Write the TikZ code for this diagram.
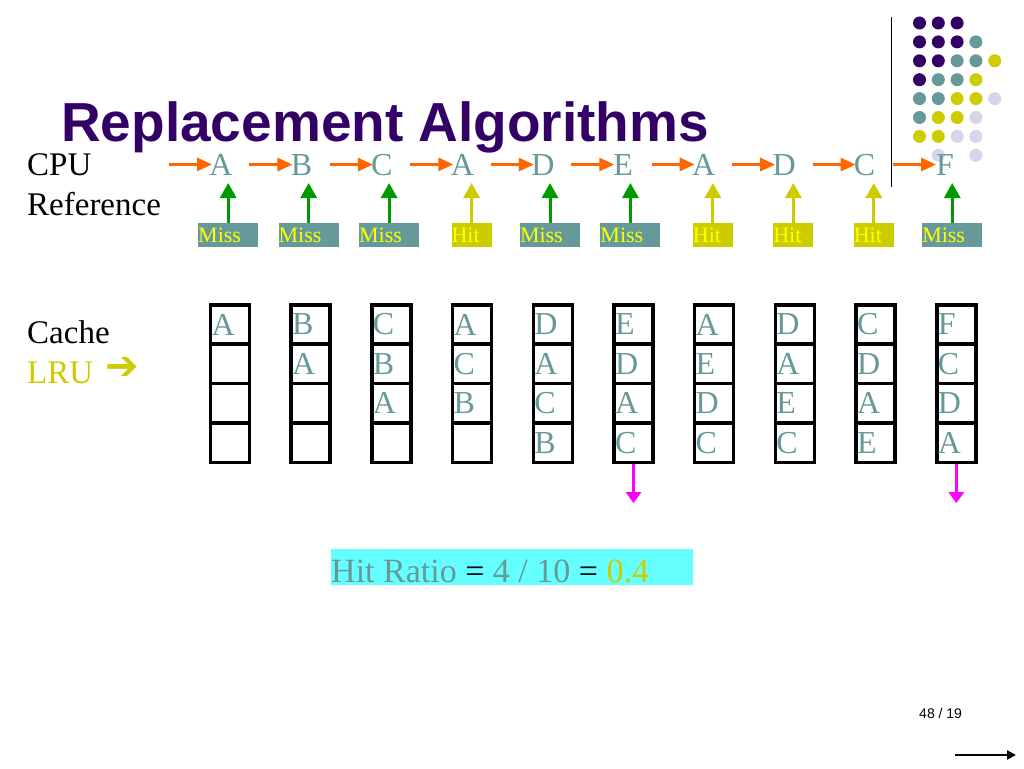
\documentclass[tikz,border=0pt]{standalone}
\usepackage{fontspec}
\setmainfont{Liberation Serif}
\newfontfamily\sansf{Liberation Sans}
\newfontfamily\djv{DejaVu Sans}
\usetikzlibrary{arrows.meta}
\definecolor{ttl}{HTML}{330066}
\definecolor{tealc}{HTML}{669999}
\definecolor{hitc}{HTML}{CCCC00}
\definecolor{yelc}{HTML}{FFFF00}
\definecolor{grn}{HTML}{009900}
\definecolor{orng}{HTML}{FF6600}
\definecolor{mag}{HTML}{FF00FF}
\definecolor{cyanb}{HTML}{66FFFF}
\definecolor{lav}{HTML}{D6D6EB}
\newcommand\cachecol[5]{%
  \pgfmathsetmacro\cx{149.3+80.7*#1}%
  \node[cell] (c#1-1) at (\cx,324.45) {#2};
  \node[cell] (c#1-2) at (\cx,363.85) {#3};
  \node[cell] (c#1-3) at (\cx,403.25) {#4};
  \node[cell] (c#1-4) at (\cx,442.65) {#5};
}
\begin{document}
\begin{tikzpicture}[x=1pt,y=-1pt,
  reftxt/.style={font=\fontsize{32}{36}\selectfont, text=tealc, inner sep=0pt, anchor=base},
  orarrow/.style={color=orng, line width=3pt, -{Triangle[width=13pt,length=15pt]}},
  uparrow/.style={line width=3pt, -{Triangle[width=16pt,length=15pt]}},
  boxbase/.style={inner sep=0pt, anchor=north west, minimum height=24pt, text=yelc, font=\fontsize{22}{24}\selectfont},
  missbox/.style={boxbase, fill=tealc, text width=60pt},
  hitbox/.style={boxbase, fill=hitc, text width=40pt},
  cell/.style={draw, line width=3.5pt, minimum height=39.4pt, inner xsep=1pt, inner ysep=0pt, text width=37pt, text=tealc, font=\fontsize{32}{36}\selectfont},
  marrow/.style={color=mag, line width=3pt, -{Triangle[width=15pt,length=11pt]}},
  lbl/.style={font=\fontsize{33}{36}\selectfont, inner sep=0pt, anchor=base west}
]
\fill[white] (0,0) rectangle (1024,768);
\useasboundingbox (0,0) rectangle (1024,768);

% decorative dots
\foreach \c/\r/\cc in {0/0/ttl,1/0/ttl,2/0/ttl,
  0/1/ttl,1/1/ttl,2/1/ttl,3/1/tealc,
  0/2/ttl,1/2/ttl,2/2/tealc,3/2/tealc,4/2/hitc,
  0/3/ttl,1/3/tealc,2/3/tealc,3/3/hitc,
  0/4/tealc,1/4/tealc,2/4/hitc,3/4/hitc,4/4/lav,
  0/5/tealc,1/5/hitc,2/5/hitc,3/5/lav,
  0/6/hitc,1/6/hitc,2/6/lav,3/6/lav,
  1/7/lav,3/7/lav}
  \fill[\cc] (919.5+18.8*\c,23+18.9*\r) circle[radius=6.5pt];
\draw[line width=1.5pt] (891.5,17) -- (891.5,187);

% title
\node[anchor=base west, inner sep=0pt, text=ttl, font=\sansf\bfseries\fontsize{55}{60}\selectfont] (title) at (61,141) {Replacement Algorithms};

% labels
\node[lbl] (cpu) at (27,175) {CPU};
\node[lbl] (refl) at (27,215) {Reference};
\node[lbl] (cache) at (27,343) {Cache};
\node[lbl, text=hitc] (lru) at (27,383) {LRU};
\node[anchor=west, inner sep=0pt, text=hitc, font=\djv\fontsize{40}{42}\selectfont] (lruarr) at (105,368.5) {➔};

% reference string
\foreach \i/\c/\h in {0/A/0,1/B/0,2/C/0,3/A/1,4/D/0,5/E/0,6/A/1,7/D/1,8/C/1,9/F/0} {
  \pgfmathsetmacro\x{221+80.45*\i}
  \node[reftxt] (r\i) at (\x,175) {\c};
  \draw[orarrow] ([xshift=-52pt]r\i.center) -- ([xshift=-9pt]r\i.center);
  \ifnum\h=1
    \node[hitbox] (b\i) at (\x-11,223) {Hit};
    \def\acol{hitc}
  \else
    \node[missbox] (b\i) at (\x-23,223) {Miss};
    \def\acol{grn}
  \fi
  \coordinate (t\i) at ([yshift=-8pt]r\i.base);
  \draw[uparrow, color=\acol] (b\i.north) -- (b\i.north |- t\i);
}

% cache contents
\cachecol{1}{A}{}{}{}
\cachecol{2}{B}{A}{}{}
\cachecol{3}{C}{B}{A}{}
\cachecol{4}{A}{C}{B}{}
\cachecol{5}{D}{A}{C}{B}
\cachecol{6}{E}{D}{A}{C}
\cachecol{7}{A}{E}{D}{C}
\cachecol{8}{D}{A}{E}{C}
\cachecol{9}{C}{D}{A}{E}
\cachecol{10}{F}{C}{D}{A}

\draw[marrow] (c6-4.south) -- ++(0,39);
\draw[marrow] (c10-4.south) -- ++(0,39);

% hit ratio
\node[fill=cyanb, minimum width=362pt, minimum height=36pt, inner sep=0pt, anchor=north west] (hr) at (331,549) {};
\node[anchor=base west, inner sep=0pt, font=\fontsize{34}{36}\selectfont] (hrt) at (331,582.5) {\textcolor{tealc}{Hit Ratio} = \textcolor{tealc}{4 / 10} = \textcolor{hitc}{0.4}};

% page number and nav arrow
\node[anchor=base west, inner sep=0pt, font=\sansf\fontsize{14}{16}\selectfont] (pg) at (919,718) {48 / 19};
\coordinate (ba) at (955,755);
\draw[line width=2pt, -{Triangle[width=9pt,length=9pt]}] (ba) -- ++(61,0);
\end{tikzpicture}
\end{document}
